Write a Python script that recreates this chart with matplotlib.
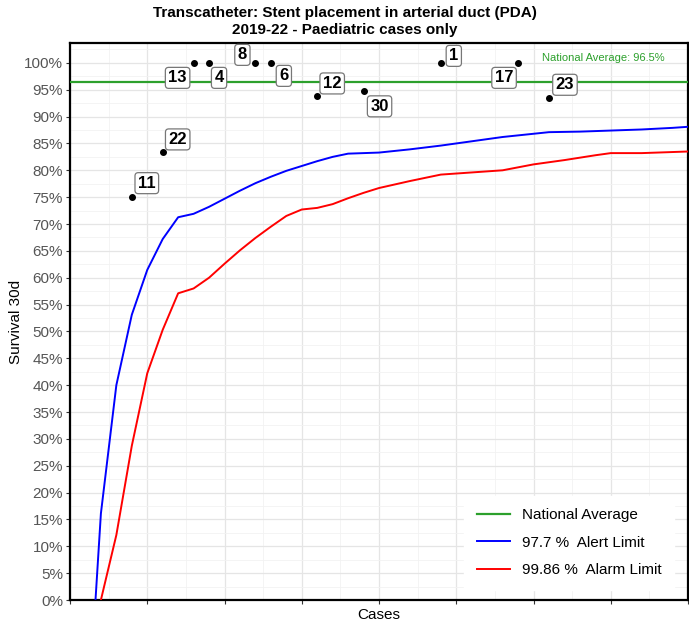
import matplotlib
matplotlib.use("Agg")
import matplotlib.pyplot as plt
from matplotlib.ticker import MultipleLocator, PercentFormatter

plt.rcParams['font.family'] = ['Liberation Sans', 'DejaVu Sans']

# hospital points: number of cases and 30 day survival
cases = [8, 12, 16, 18, 24, 26, 32, 38, 48, 58, 62]
survival = [0.75, 0.8333, 1.0, 1.0, 1.0, 1.0, 0.9375, 0.947, 1.0, 1.0, 0.935]
labels = ['11', '22', '13', '4', '8', '6', '12', '30', '1', '17', '23']

national_average = 0.965

# funnel limits
alert_x = [3.3, 4, 6, 8, 10, 12, 14, 16, 18, 20, 22, 24, 26, 28, 30, 32, 34, 36,
           38, 40, 44, 48, 52, 56, 60, 62, 66, 70, 74, 78, 80]
alert_y = [0.0, 0.161, 0.400, 0.531, 0.6145, 0.672, 0.7126, 0.719, 0.732, 0.747,
           0.762, 0.776, 0.788, 0.799, 0.808, 0.817, 0.825, 0.831, 0.832, 0.833,
           0.839, 0.846, 0.854, 0.862, 0.868, 0.871, 0.872, 0.874, 0.876, 0.879, 0.881]
alarm_x = [4, 6, 8, 10, 12, 14, 16, 18, 20, 22, 24, 26, 28, 30, 32, 34, 36, 38,
           40, 44, 48, 52, 56, 60, 64, 68, 70, 74, 80]
alarm_y = [0.0, 0.121, 0.287, 0.422, 0.503, 0.571, 0.580, 0.600, 0.626, 0.651,
           0.674, 0.695, 0.715, 0.727, 0.730, 0.737, 0.748, 0.758, 0.767, 0.780,
           0.792, 0.796, 0.800, 0.811, 0.819, 0.828, 0.832, 0.832, 0.835]

# label offsets in pixels (repel-like placement)
offsets = [(15, 14), (15, 13), (-16, -15), (10, -15), (-13, 8), (13, -13),
           (15, 13), (16, -15), (13, 7), (-14, -15), (16, 13)]

fig = plt.figure(figsize=(6.89, 6.25), dpi=100)
ax = fig.add_axes([70 / 689, 25 / 625, 618 / 689, 557 / 625])

ax.axhline(national_average, color='#2ca02c', lw=1.6, label='National Average', zorder=3)
ax.plot(alert_x, alert_y, color='#0000ff', lw=1.4, label='97.7 %  Alert Limit', zorder=3)
ax.plot(alarm_x, alarm_y, color='#ff0000', lw=1.4, label='99.86 %  Alarm Limit', zorder=3)
ax.plot(cases, survival, 'o', color='black', ms=4, zorder=4)

for x, y, lab, off in zip(cases, survival, labels, offsets):
    ax.annotate(lab, (x, y), xytext=off, textcoords='offset pixels',
                ha='center', va='center', fontsize=12, fontweight='bold',
                bbox=dict(boxstyle='round,pad=0.18,rounding_size=0.2', fc='white',
                          ec='#777777', lw=0.9), zorder=5)

ax.text(69, 1.009, 'National Average: 96.5%', color='#2ca02c', fontsize=8,
        ha='center', va='center')

ax.set_xlim(0, 80)
ax.set_ylim(0, 1.037)
ax.xaxis.set_major_locator(MultipleLocator(10))
ax.xaxis.set_minor_locator(MultipleLocator(5))
ax.yaxis.set_major_locator(MultipleLocator(0.05))
ax.yaxis.set_minor_locator(MultipleLocator(0.025))
ax.yaxis.set_major_formatter(PercentFormatter(1.0, decimals=0))
ax.set_xticklabels([])
ax.grid(which='major', color='#e5e5e5', lw=0.9)
ax.grid(which='minor', color='#f2f2f2', lw=0.6)
ax.set_axisbelow(True)
ax.tick_params(which='minor', length=0)
ax.tick_params(which='major', length=3, color='#333333', labelsize=11,
               labelcolor='#555555', pad=2)
for s in ax.spines.values():
    s.set_linewidth(1.6)
    s.set_color('black')

ax.set_xlabel('Cases', fontsize=11, labelpad=1)
ax.set_ylabel('Survival 30d', fontsize=11, labelpad=1)

fig.suptitle('Transcatheter: Stent placement in arterial duct (PDA)\n2019-22 - Paediatric cases only',
             fontsize=11, fontweight='bold', y=0.99, linespacing=1.25)

leg = ax.legend(loc='lower right', bbox_to_anchor=(0.99, 0.005), fontsize=11,
                frameon=True, fancybox=False, framealpha=1, edgecolor='white',
                handlelength=2.2, labelspacing=0.9, borderpad=0.8)

fig.savefig('out.png', dpi=100)
